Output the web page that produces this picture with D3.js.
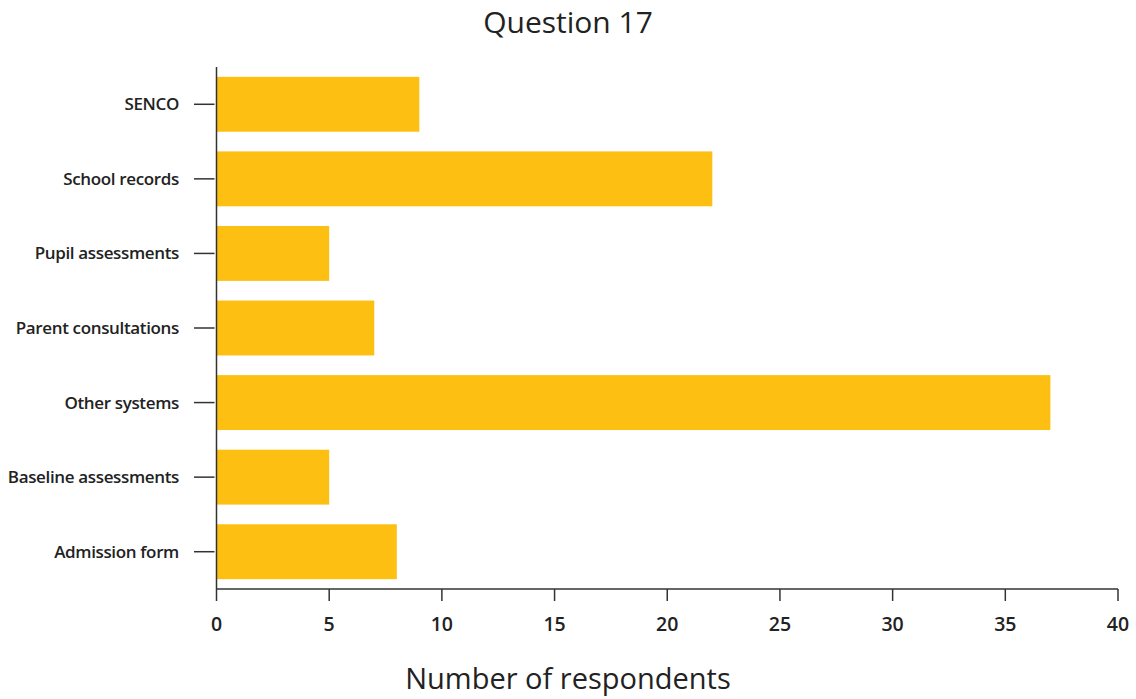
<!DOCTYPE html>
<html><head><meta charset="utf-8">
<script src="https://cdn.jsdelivr.net/npm/d3@7"></script>
<style>
body{margin:0;background:#fff;}
svg{display:block;}
</style></head>
<body>
<svg id="chart" width="1136" height="699"></svg>
<script>
const categories = ["SENCO","School records","Pupil assessments","Parent consultations","Other systems","Baseline assessments","Admission form"];
const values = [9,22,5,7,37,5,8];
const xTicks = [0,5,10,15,20,25,30,35,40];
const title = "Question 17";
const xTitle = "Number of respondents";

(function(){
const svg = d3.select("#chart");
const mLeft = 216.5, mRight = 1118, mTop = 67, mBottom = 589;
const x = d3.scaleLinear().domain([0,40]).range([mLeft,mRight]);
const y = d3.scaleBand().domain(categories).range([mTop,mBottom]).paddingInner(0.264).paddingOuter(0.132);

svg.selectAll("rect.bar").data(categories).enter().append("rect")
  .attr("class","bar")
  .attr("x", x(0))
  .attr("y", d=>y(d))
  .attr("width", (d,i)=>x(values[i])-x(0))
  .attr("height", y.bandwidth())
  .attr("fill","#FDBF12");

svg.append("line").attr("x1",mLeft).attr("x2",mLeft).attr("y1",mTop).attr("y2",mBottom)
  .attr("stroke","#333").attr("stroke-width",1.5);
svg.selectAll("line.yt").data(categories).enter().append("line")
  .attr("x1",194).attr("x2",214.5)
  .attr("y1",d=>y(d)+y.bandwidth()/2).attr("y2",d=>y(d)+y.bandwidth()/2)
  .attr("stroke","#333").attr("stroke-width",1.5);
svg.selectAll("text.yl").data(categories).enter().append("text")
  .attr("x",179).attr("y",d=>y(d)+y.bandwidth()/2)
  .attr("dy","0.35em").attr("text-anchor","end")
  .style("font-family","'Open Sans', sans-serif").style("font-weight","600")
  .style("font-size","17px").style("letter-spacing","-0.35px").attr("fill","#222")
  .text(d=>d);

svg.append("line").attr("x1",mLeft).attr("x2",mRight).attr("y1",mBottom).attr("y2",mBottom)
  .attr("stroke","#333").attr("stroke-width",1.5);
svg.selectAll("line.xt").data(xTicks).enter().append("line")
  .attr("x1",d=>x(d)).attr("x2",d=>x(d)).attr("y1",mBottom).attr("y2",mBottom+12)
  .attr("stroke","#333").attr("stroke-width",1.5);
svg.selectAll("text.xl").data(xTicks).enter().append("text")
  .attr("x",d=>x(d)).attr("y",631).attr("text-anchor","middle")
  .style("font-family","'Open Sans', sans-serif").style("font-weight","600")
  .style("font-size","19.5px").style("letter-spacing","0px").attr("fill","#222")
  .text(d=>d);

svg.append("text").attr("x",568).attr("y",33).attr("text-anchor","middle")
  .style("font-family","'Open Sans', sans-serif").style("font-size","30px").attr("fill","#222")
  .text(title);
svg.append("text").attr("x",568).attr("y",689).attr("text-anchor","middle")
  .style("font-family","'Open Sans', sans-serif").style("font-size","29px").attr("fill","#222")
  .text(xTitle);
})();
</script>
</body></html>
